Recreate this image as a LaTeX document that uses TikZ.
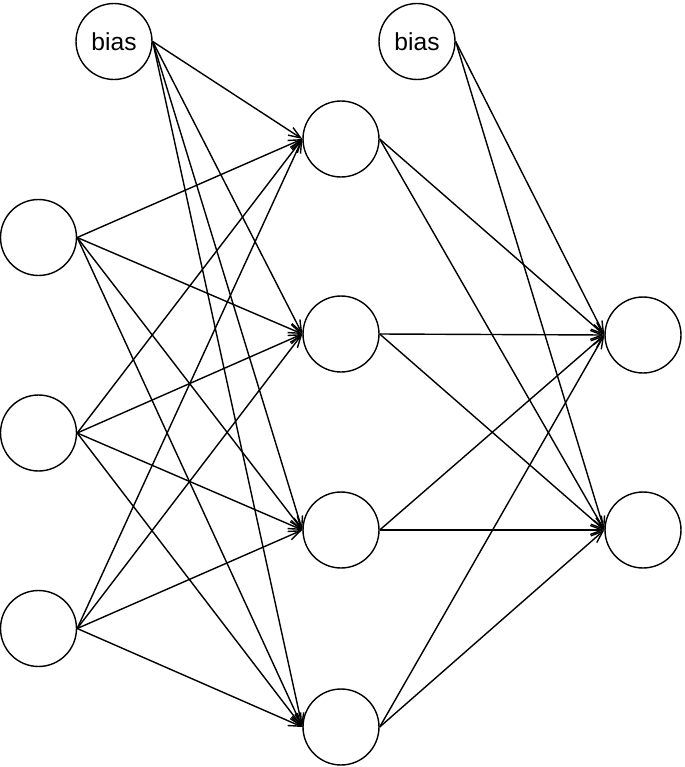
\documentclass[tikz,border=0pt]{standalone}
\usepackage{fontspec}
\setmainfont{Liberation Sans}
\usetikzlibrary{arrows.meta}
\begin{document}
\begin{tikzpicture}[auto, x=0.02cm, y=-0.02cm, >={Straight Barb[length=2.4mm,width=1.8mm]},
    neuron/.style ={circle, draw, thick, inner sep=0pt, minimum size=15.2mm, font=\fontsize{14}{16}\selectfont}]
   \useasboundingbox (0,0) rectangle (685,767);
   % input layer
   \node[neuron] (I1) at (38.5,237.5) {};
   \node[neuron] (I2) at (38.5,433) {};
   \node[neuron] (I3) at (38.5,628.5) {};
   \node[neuron] (B1) at (114,41.5) {bias};
   % hidden layer
   \node[neuron] (H1) at (341,139) {};
   \node[neuron] (H2) at (341,334) {};
   \node[neuron] (H3) at (341,530) {};
   \node[neuron] (H4) at (341,727) {};
   \node[neuron] (B2) at (417,41.5) {bias};
   % output layer
   \node[neuron] (O1) at (643,335) {};
   \node[neuron] (O2) at (643,530) {};
   % input to hidden
   \draw[thick, ->] (I1.east) to (H1.west);
   \draw[thick, ->] (I1.east) to (H2.west);
   \draw[thick, ->] (I1.east) to (H3.west);
   \draw[thick, ->] (I1.east) to (H4.west);
   \draw[thick, ->] (I2.east) to (H1.west);
   \draw[thick, ->] (I2.east) to (H2.west);
   \draw[thick, ->] (I2.east) to (H3.west);
   \draw[thick, ->] (I2.east) to (H4.west);
   \draw[thick, ->] (I3.east) to (H1.west);
   \draw[thick, ->] (I3.east) to (H2.west);
   \draw[thick, ->] (I3.east) to (H3.west);
   \draw[thick, ->] (I3.east) to (H4.west);
   \draw[thick, ->] (B1.east) to (H1.west);
   \draw[thick, ->] (B1.east) to (H2.west);
   \draw[thick, ->] (B1.east) to (H3.west);
   \draw[thick, ->] (B1.east) to (H4.west);
   % hidden to output
   \draw[thick, ->] (H1.east) to (O1.west);
   \draw[thick, ->] (H1.east) to (O2.west);
   \draw[thick, ->] (H2.east) to (O1.west);
   \draw[thick, ->] (H2.east) to (O2.west);
   \draw[thick, ->] (H3.east) to (O1.west);
   \draw[thick, ->] (H3.east) to (O2.west);
   \draw[thick, ->] (H4.east) to (O1.west);
   \draw[thick, ->] (H4.east) to (O2.west);
   \draw[thick, ->] (B2.east) to (O1.west);
   \draw[thick, ->] (B2.east) to (O2.west);
\end{tikzpicture}
\end{document}
